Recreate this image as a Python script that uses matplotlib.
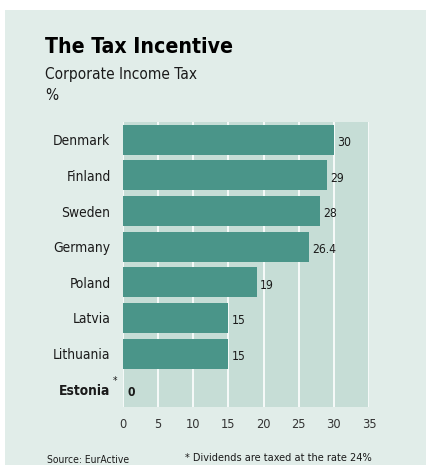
import matplotlib.pyplot as plt
from matplotlib.patches import Rectangle
from matplotlib import font_manager

countries = ['Denmark', 'Finland', 'Sweden', 'Germany', 'Poland', 'Latvia', 'Lithuania', 'Estonia']
tax = [30, 29, 28, 26.4, 19, 15, 15, 0]
labels = ['30', '29', '28', '26.4', '19', '15', '15', '0']
xticks = [0, 5, 10, 15, 20, 25, 30, 35]

# narrow font if one is around, else Liberation Sans a bit smaller
cond = font_manager.findfont(font_manager.FontProperties(family='DejaVu Sans', stretch='condensed'))
if 'Condensed' in cond:
    plt.rcParams['font.family'] = ['DejaVu Sans']
    plt.rcParams['font.stretch'] = 'condensed'
    k = 0.92
else:
    plt.rcParams['font.family'] = ['Liberation Sans', 'DejaVu Sans']
    k = 0.88

bg = '#e1ede9'
face = '#c6ddd6'
bar_c = '#4a9589'
txt = '#1a1a1a'

fig = plt.figure(figsize=(4.26, 4.65), dpi=100)
fig.patch.set_facecolor('white')
fig.patches.append(Rectangle((5 / 426, 0), 1, 1 - 10 / 465, transform=fig.transFigure,
                             facecolor=bg, edgecolor='none', zorder=-10))

ax = fig.add_axes([123 / 426, 1 - 407 / 465, 246 / 426, 285 / 465])
ax.set_facecolor(face)
y = list(range(len(countries)))
ax.barh(y, tax, height=0.84, color=bar_c, zorder=3)
ax.set_xlim(0, 35)
ax.set_ylim(len(countries) - 0.5, -0.5)
ax.set_xticks(xticks)
ax.set_xticklabels([str(t) for t in xticks], fontsize=10 * k, color='#333333')
ax.set_yticks(y)
ax.set_yticklabels(countries, fontsize=10.8 * k, color=txt)
ax.get_yticklabels()[-1].set_fontweight('bold')
ax.tick_params(axis='x', length=0, pad=8)
ax.tick_params(axis='y', length=0, pad=9)
ax.grid(axis='x', color='white', linewidth=1.2, zorder=1)
for s in ax.spines.values():
    s.set_visible(False)

for i, (v, lab) in enumerate(zip(tax, labels)):
    w = 'bold' if v == 0 else 'normal'
    ax.text(v + 0.5 if v > 0 else 0.7, i + 0.08, lab, va='center', ha='left',
            fontsize=9.5 * k, color=txt, fontweight=w)

# asterisk after Estonia
fig.text(113 / 426, 1 - 381 / 465, '*', fontsize=8 * k, color=txt, ha='left', va='center')

fig.text(45 / 426, 1 - 47 / 465, 'The Tax Incentive', fontsize=16.5 * k, fontweight='bold',
         color='black', va='center', ha='left')
fig.text(45 / 426, 1 - 74 / 465, 'Corporate Income Tax', fontsize=12 * k, color=txt,
         va='center', ha='left')
fig.text(45 / 426, 1 - 95 / 465, '%', fontsize=12 * k, color=txt, va='center', ha='left')

fig.text(47 / 426, 1 - 460 / 465, 'Source: EurActive', fontsize=8 * k, color=txt,
         va='center', ha='left')
fig.text(372 / 426, 1 - 458 / 465, '* Dividends are taxed at the rate 24%', fontsize=8.5 * k,
         color=txt, va='center', ha='right')

fig.savefig('out.png', dpi=100, facecolor=fig.get_facecolor())
